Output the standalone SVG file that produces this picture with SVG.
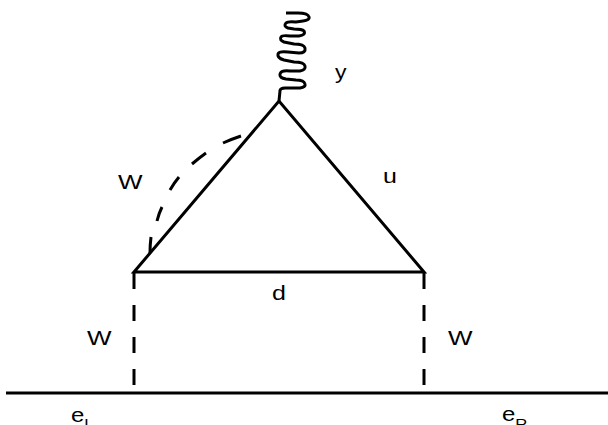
<svg xmlns="http://www.w3.org/2000/svg" width="608" height="425" viewBox="0 0 608 425">
<style>
.l{fill:none;stroke:#000;stroke-width:3}
text{font-family:"Liberation Sans",Arial,sans-serif;font-size:20px;fill:#000}
</style>
<rect width="608" height="425" fill="#fff"/>
<g id="connectors">
<path id="photon" class="l" d="M279 101L280 91Q280 88 285 88L300 88Q306 87 305 84Q304 80 296 80L286 79Q279 78 280 74Q281 70 290 71L300 71Q306 70 305 66Q304 62 294 62L284 60Q277 58 278 54Q279 51 288 52L299 53Q306 53 305 48Q304 44 294 44L284 42Q279 40 281 37Q282 35 290 36L299 36Q306 35 304 31Q302 29 294 29L288 28Q283 26 286 23Q288 21 296 22L303 21Q310 20 309 17Q308 13 298 13L286 13"/>
<path id="triangle" class="l" d="M134 272L279 101L424 272Z"/>
<path id="w-arc" class="l" d="M151 237Q150 245 150 253M162 207Q159 213 157 221M179 177Q174 183 170 190M206 153Q199 158 192 164M241 136Q232 139 223 143"/>
<path id="w-left" class="l" d="M134 273V289M134 305V321M134 337V353M134 369V385"/>
<path id="w-right" class="l" d="M424 273V289M424 305V321M424 337V353M424 369V385"/>
<path id="electron" class="l" d="M6 393H608"/>
</g>
<g id="label-y"><text transform="translate(335 79) scale(1.15 1)" font-size="21">y</text></g>
<g id="label-w-arc"><text transform="translate(118 189) scale(1.3 1)">W</text></g>
<g id="label-u"><text transform="translate(383 183) scale(1.25 1)">u</text></g>
<g id="label-d"><text transform="translate(272 300) scale(1.25 1)">d</text></g>
<g id="label-w-left"><text transform="translate(87 345) scale(1.3 1)">W</text></g>
<g id="label-w-right"><text transform="translate(448 345) scale(1.3 1)">W</text></g>
<g id="label-el"><text transform="translate(71 422) scale(1.2 1)" font-size="22">e<tspan font-size="14" dy="7">L</tspan></text></g>
<g id="label-er"><text transform="translate(502 421) scale(1.2 1)" font-size="22">e<tspan font-size="14" dy="8">R</tspan></text></g>
</svg>
